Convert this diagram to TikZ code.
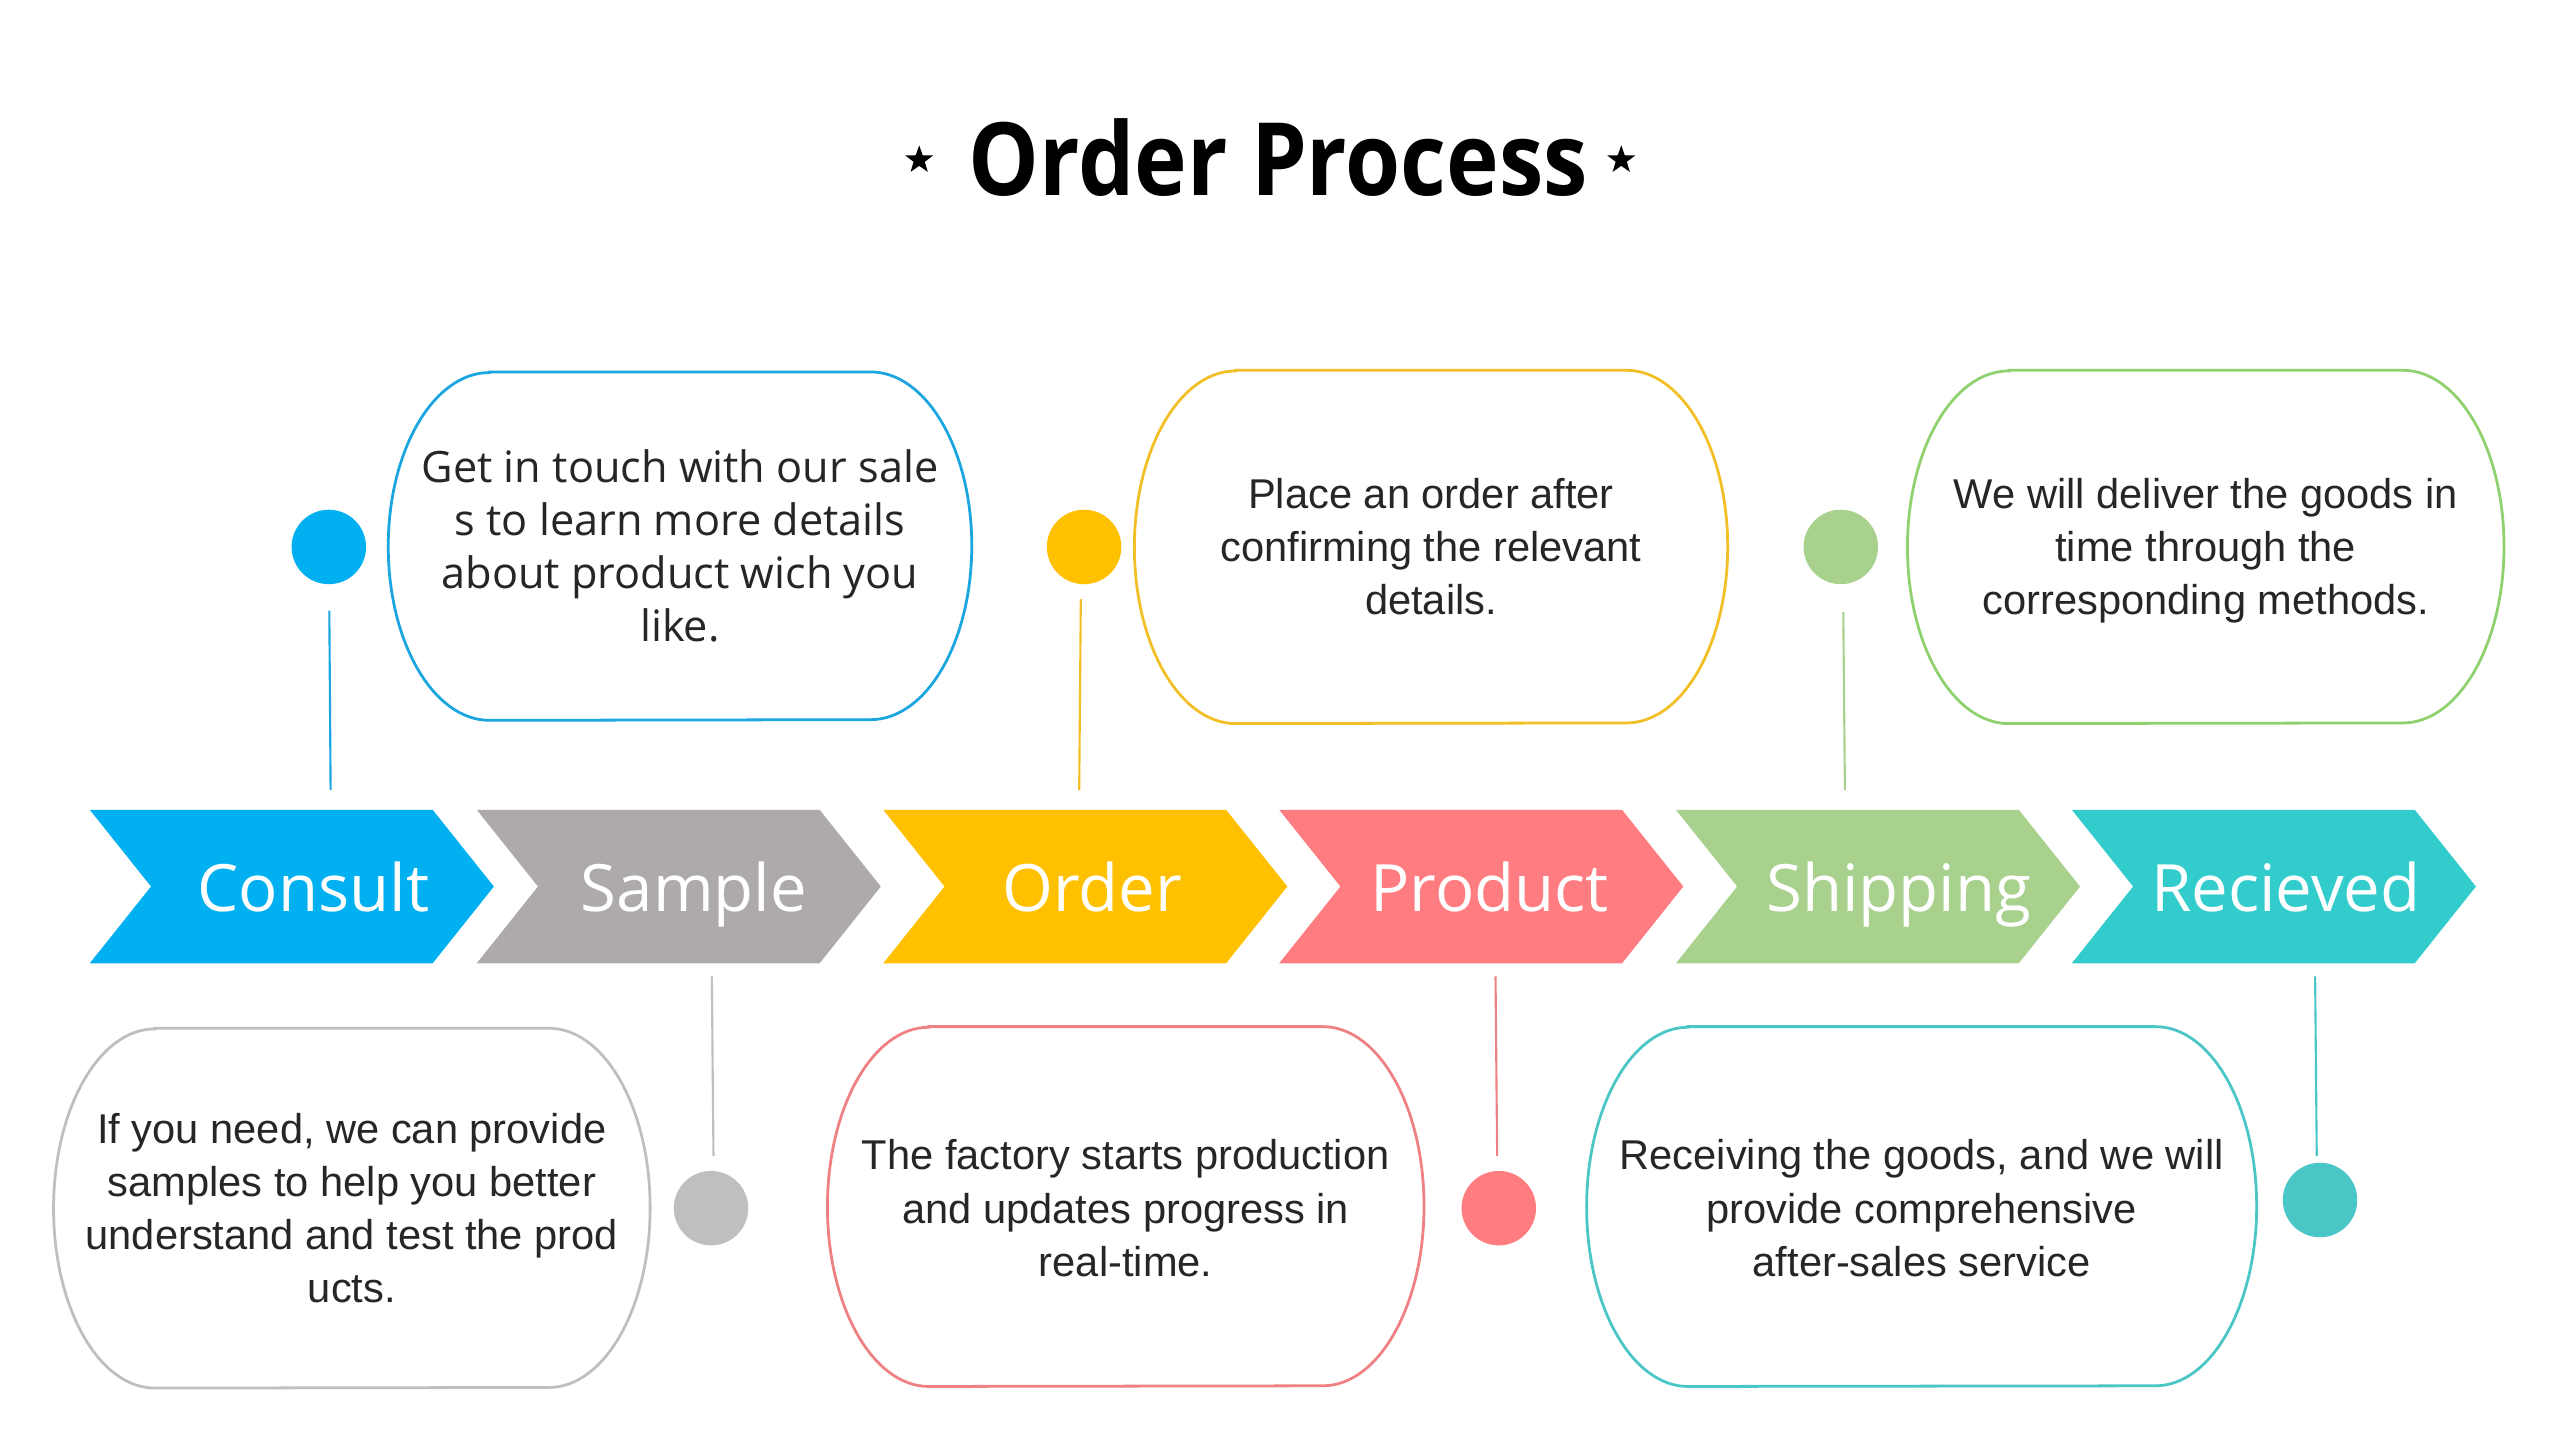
\documentclass[tikz,border=0pt]{standalone}
\usepackage{fontspec}
\setmainfont{Liberation Sans}
\newfontfamily\segf{Open Sans}
\newfontfamily\titf[FakeStretch=0.88]{Open Sans}
\usetikzlibrary{shapes.geometric}
\definecolor{txt}{HTML}{262626}
\definecolor{blueC}{HTML}{00B0F0}
\definecolor{blueL}{HTML}{1CA6DF}
\definecolor{grayC}{HTML}{AEAAAA}
\definecolor{grayL}{HTML}{BFBFBF}
\definecolor{orgC}{HTML}{FFC000}
\definecolor{orgL}{HTML}{F2BF26}
\definecolor{pinkC}{HTML}{FF7C80}
\definecolor{pinkL}{HTML}{EF8083}
\definecolor{grnC}{HTML}{A9D18E}
\definecolor{grnL}{HTML}{8FD16E}
\definecolor{tealC}{HTML}{33CCCC}
\definecolor{tealL}{HTML}{4BC6C6}
\tikzset{
  chevlab/.style={text=white, font=\segf\fontsize{40}{48}\selectfont, inner sep=0pt, anchor=base},
  dotnode/.style={circle, minimum size=45.6pt, inner sep=0pt, draw=none},
  frame/.style={inner sep=0pt, draw=none},
  boxtxt/.style={align=center, text=txt, inner sep=0pt, font=\fontsize{25.5}{32.5}\selectfont},
  conn/.style={line width=1.3pt},
  outl/.style={line width=1.7pt},
  starnode/.style={star, star points=5, star point ratio=2.5, fill=black, inner sep=0pt, minimum size=18pt}
}
% #1 left x, #2 colour, #3 name, #4 label, #5 label centre x
\newcommand\chevron[5]{%
  \fill[#2] (#1,496) -- ++(210,0) -- ++(37.5,47) -- ++(-37.5,47) -- ++(-210,0) -- ++(37.5,-47) -- cycle;
  \node[chevlab] (#3) at (#5,558) {#4};}
\newcommand\boxoutline[3]{%
  \draw[outl,#2] ([xshift=62pt]#1.north west) -- ([xshift=-62pt]#1.north east)
    arc[start angle=90, end angle=-90, x radius=62pt, y radius=#3]
    -- ([xshift=62pt]#1.south west)
    arc[start angle=270, end angle=90, x radius=62pt, y radius=#3] -- cycle;}
\begin{document}
\begin{tikzpicture}[x=1pt,y=-1pt]
\useasboundingbox[fill=white] (0,0) rectangle (1568,882);

% title
\node[font=\titf\bfseries\fontsize{62}{72}\selectfont, anchor=base, inner sep=0pt] (title) at (783,120) {Order Process};
\node[starnode] (star1) at (563,98) {};
\node[starnode] (star2) at (993,98) {};

% chevrons
\chevron{55}{blueC}{ch1}{Consult}{192}
\chevron{292}{grayC}{ch2}{Sample}{425}
\chevron{541}{orgC}{ch3}{Order}{669}
\chevron{783.5}{pinkC}{ch4}{Product}{912.5}
\chevron{1026.5}{grnC}{ch5}{Shipping}{1163}
\chevron{1269}{tealC}{ch6}{Recieved}{1400}

% dots
\node[dotnode, fill=blueC] (d1) at (201.4,335) {};
\node[dotnode, fill=grayL] (d2) at (435.5,740) {};
\node[dotnode, fill=orgC] (d3) at (664,335) {};
\node[dotnode, fill=pinkC] (d4) at (918,740) {};
\node[dotnode, fill=grnC] (d5) at (1127.5,335) {};
\node[dotnode, fill=tealL] (d6) at (1421,735) {};

% connector lines
\coordinate (l1a) at (201.7,374);  \coordinate (l1b) at (202.5,484);
\coordinate (l2a) at (436,598);    \coordinate (l2b) at (437,708);
\coordinate (l3a) at (662,367);    \coordinate (l3b) at (661,484);
\coordinate (l4a) at (916,598);    \coordinate (l4b) at (917,708);
\coordinate (l5a) at (1129,375);   \coordinate (l5b) at (1130,484);
\coordinate (l6a) at (1418,598);   \coordinate (l6b) at (1419,708);
\draw[conn, blueL] (l1a) -- (l1b);
\draw[conn, grayL] (l2a) -- (l2b);
\draw[conn, orgL] (l3a) -- (l3b);
\draw[conn, pinkL] (l4a) -- (l4b);
\draw[conn, grnC] (l5a) -- (l5b);
\draw[conn, tealL] (l6a) -- (l6b);

% text boxes: frames
\node[frame, minimum width=357pt, minimum height=213pt] (b1) at (416.5,334.5) {};
\node[frame, minimum width=363pt, minimum height=216pt] (b2) at (876.5,335) {};
\node[frame, minimum width=365pt, minimum height=216pt] (b3) at (1351,335) {};
\node[frame, minimum width=365pt, minimum height=220pt] (b4) at (215.5,740) {};
\node[frame, minimum width=365pt, minimum height=220pt] (b5) at (689.5,739) {};
\node[frame, minimum width=410pt, minimum height=220pt] (b6) at (1177,739) {};
\boxoutline{b1}{blueL}{106.5pt}
\boxoutline{b2}{orgL}{108pt}
\boxoutline{b3}{grnL}{108pt}
\boxoutline{b4}{grayL}{110pt}
\boxoutline{b5}{pinkL}{110pt}
\boxoutline{b6}{tealL}{110pt}

% texts
\node[boxtxt, font=\segf\fontsize{26.5}{32.5}\selectfont] (t1) at (b1)
  {Get in touch with our sale\\s to learn more details\\about product wich you\\like.};
\node[boxtxt] (t2) at (b2) {Place an order after\\confirming the relevant\\details.};
\node[boxtxt] (t3) at ([yshift=-2.5pt]b3.center) {We will deliver the goods in\\time through the\\corresponding methods.};
\node[boxtxt] (t4) at (b4) {If you need, we can provide\\samples to help you better\\understand and test the prod\\ucts.};
\node[boxtxt] (t5) at ([yshift=-1pt]b5.center) {The factory starts production\\and updates progress in\\real-time.};
\node[boxtxt] (t6) at ([yshift=-1pt]b6.center) {Receiving the goods, and we will\\provide comprehensive\\after-sales service};
\end{tikzpicture}
\end{document}
